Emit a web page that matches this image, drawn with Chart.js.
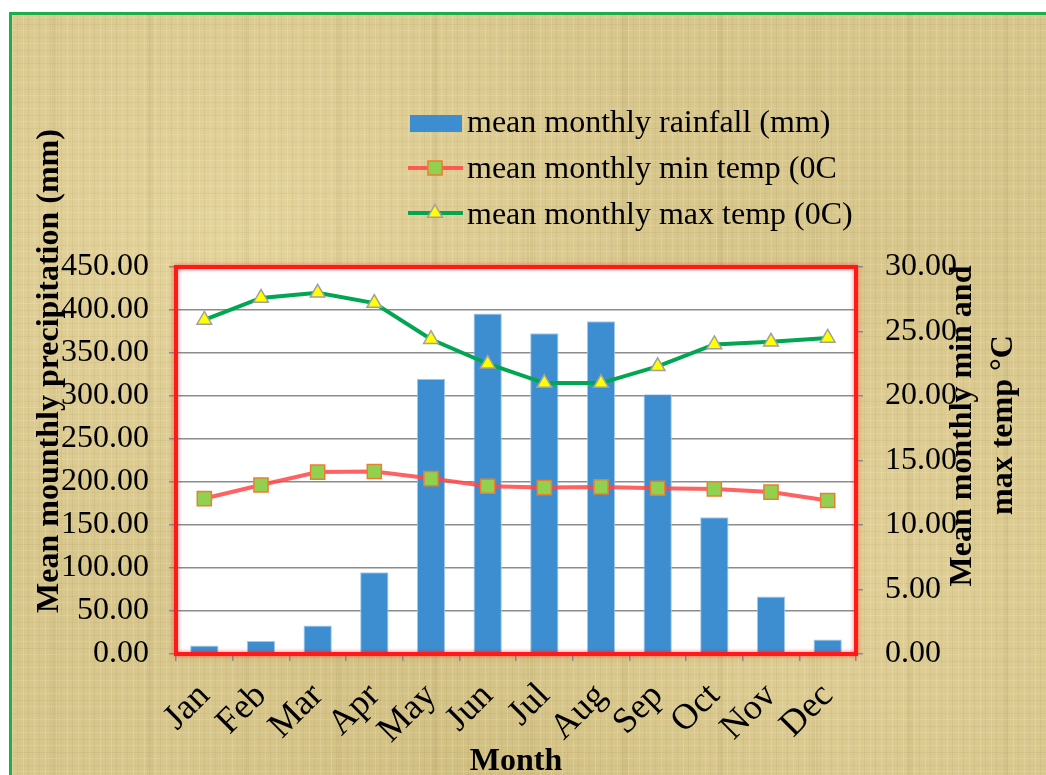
<!DOCTYPE html>
<html>
<head>
<meta charset="utf-8">
<title>Mean monthly rainfall and temperature</title>
<script src="https://cdn.jsdelivr.net/npm/chart.js@4.4.1/dist/chart.umd.min.js"></script>
<style>
  html, body { margin: 0; padding: 0; background: #fff; overflow: hidden; }
  #frame {
    position: absolute; left: 9px; top: 12px; width: 1100px; height: 900px;
    border: 3px solid #1DAE4B;
    background-color: #D8C78D;
    background-image:
      repeating-linear-gradient(90deg, rgba(255,248,212,0.18) 0 1px, transparent 1px 5px, rgba(130,105,40,0.08) 5px 6px, transparent 6px 11px),
      repeating-linear-gradient(0deg, rgba(255,248,212,0.14) 0 1px, transparent 1px 6px, rgba(130,105,40,0.07) 6px 7px, transparent 7px 13px),
      repeating-linear-gradient(90deg, transparent 0 40px, rgba(120,100,40,0.06) 40px 46px, transparent 46px 95px),
      radial-gradient(ellipse at 20% 25%, rgba(240,226,172,0.5), transparent 35%),
      radial-gradient(ellipse at 70% 60%, rgba(238,224,170,0.4), transparent 40%),
      radial-gradient(ellipse at 45% 90%, rgba(190,170,100,0.3), transparent 40%);
  }
  #chart { position: absolute; left: 0; top: 0; }
</style>
</head>
<body>
<div id="frame"></div>
<canvas id="chart" width="1046" height="775"></canvas>
<script>
// 月份
const months = ['Jan', 'Feb', 'Mar', 'Apr', 'May', 'Jun', 'Jul', 'Aug', 'Sep', 'Oct', 'Nov', 'Dec'];

// 月平均降雨量 (mm)
const rainfall = [10, 15, 33, 95, 320, 396, 373, 387, 302, 159, 67, 17];

// 月平均最低 / 最高气温 (°C)
const minTemp = [12.05, 13.1, 14.1, 14.15, 13.6, 13.0, 12.9, 12.95, 12.85, 12.8, 12.55, 11.9];
const maxTemp = [25.9, 27.6, 28.0, 27.2, 24.4, 22.5, 21.0, 21.0, 22.3, 24.0, 24.2, 24.5];

// 坐标轴范围
const rainAxis = { min: 0, max: 450, step: 50 };
const tempAxis = { min: 0, max: 30, step: 5 };

const serif = "'Liberation Serif', 'Times New Roman', serif";
const gridGray = '#8C8C8C';

Chart.defaults.font.family = serif;
Chart.defaults.color = '#000';

// 绘图区白底、红框、图例和轴标题
const decorPlugin = {
  id: 'decor',
  beforeDraw(chart) {
    const { ctx, chartArea: a } = chart;
    ctx.save();
    ctx.fillStyle = '#fff';
    ctx.fillRect(a.left, a.top, a.right - a.left, a.bottom - a.top);
    ctx.restore();
  },
  afterDraw(chart) {
    const { ctx, chartArea: a } = chart;
    const ds = chart.data.datasets;

    // 红色边框
    ctx.save();
    ctx.strokeStyle = '#FF1A1A';
    ctx.lineWidth = 4;
    ctx.shadowColor = 'rgba(255,0,0,0.55)';
    ctx.shadowBlur = 4;
    ctx.strokeRect(a.left, a.top, a.right - a.left, a.bottom - a.top);
    ctx.restore();

    // 图例
    ctx.save();
    ctx.font = '32px ' + serif;
    ctx.textBaseline = 'alphabetic';
    ctx.fillStyle = ds[0].backgroundColor;
    ctx.fillRect(410, 115, 52, 17);
    ctx.fillStyle = '#000';
    ctx.fillText(ds[0].label, 467, 132);

    [[1, 168, 178], [2, 213, 224]].forEach(([i, ly, by]) => {
      const d = ds[i];
      ctx.strokeStyle = d.borderColor;
      ctx.lineWidth = d.borderWidth;
      ctx.beginPath();
      ctx.moveTo(408, ly);
      ctx.lineTo(463, ly);
      ctx.stroke();
      ctx.fillStyle = d.pointBackgroundColor;
      ctx.strokeStyle = d.pointBorderColor;
      ctx.lineWidth = d.pointBorderWidth;
      Chart.helpers.drawPoint(ctx, { pointStyle: d.pointStyle, radius: d.pointRadius, borderWidth: d.pointBorderWidth, rotation: 0 }, 435, ly);
      ctx.fillStyle = '#000';
      ctx.fillText(d.label, 467, by);
    });
    ctx.restore();

    // 轴标题
    ctx.save();
    ctx.font = 'bold 32px ' + serif;
    ctx.fillStyle = '#000';
    ctx.textAlign = 'center';
    ctx.textBaseline = 'alphabetic';
    ctx.fillText('Month', (a.left + a.right) / 2, 770);

    const vText = (txt, x, y) => {
      ctx.save();
      ctx.translate(x, y);
      ctx.rotate(-Math.PI / 2);
      ctx.fillText(txt, 0, 0);
      ctx.restore();
    };
    vText('Mean mounthly precipitation (mm)', 58, 371);
    vText('Mean monthly min and', 971, 426);
    vText('max temp \u00B0C', 1012, 425);
    ctx.restore();
  }
};

const fmt2 = v => Number(v).toFixed(2);

new Chart(document.getElementById('chart'), {
  data: {
    labels: months,
    datasets: [
      {
        type: 'bar',
        label: 'mean monthly rainfall (mm)',
        data: rainfall,
        yAxisID: 'y',
        backgroundColor: '#3D8ED0',
        borderColor: '#A7C9E8',
        borderWidth: 1,
        barPercentage: 0.5,
        categoryPercentage: 1,
        order: 3
      },
      {
        type: 'line',
        label: 'mean monthly min temp (0C',
        data: minTemp,
        yAxisID: 'y1',
        borderColor: 'rgba(255,70,70,0.85)',
        borderWidth: 4,
        pointStyle: 'rect',
        pointRadius: 10,
        pointBackgroundColor: '#92D050',
        pointBorderColor: '#ED7D31',
        pointBorderWidth: 1.5,
        tension: 0,
        order: 2
      },
      {
        type: 'line',
        label: 'mean monthly max temp (0C)',
        data: maxTemp,
        yAxisID: 'y1',
        borderColor: '#00A651',
        borderWidth: 4,
        pointStyle: 'triangle',
        pointRadius: 8.5,
        pointBackgroundColor: '#FFFF00',
        pointBorderColor: '#A0A0A0',
        pointBorderWidth: 1.5,
        tension: 0,
        order: 1
      }
    ]
  },
  options: {
    responsive: false,
    animation: false,
    layout: { padding: { top: 267, left: 0, right: 0, bottom: 0 } },
    plugins: {
      legend: { display: false },
      tooltip: { enabled: false }
    },
    scales: {
      x: {
        grid: { drawOnChartArea: false, offset: true, color: gridGray, lineWidth: 1.5, tickLength: 7 },
        border: { display: false },
        ticks: { font: { size: 36 }, color: '#000', minRotation: 45, maxRotation: 45, padding: 14, autoSkip: false },
        afterFit(s) { s.height = 121; }
      },
      y: {
        position: 'left',
        min: rainAxis.min,
        max: rainAxis.max,
        grid: { color: gridGray, lineWidth: 1.5, tickLength: 7 },
        border: { display: false },
        ticks: { stepSize: rainAxis.step, callback: fmt2, font: { size: 32 }, color: '#000', padding: 20 },
        afterFit(s) { s.width = 176; }
      },
      y1: {
        position: 'right',
        min: tempAxis.min,
        max: tempAxis.max,
        grid: { drawOnChartArea: false, color: gridGray, lineWidth: 1.5, tickLength: 7 },
        border: { display: false },
        ticks: { stepSize: tempAxis.step, callback: fmt2, font: { size: 32 }, color: '#000', padding: 22 },
        afterFit(s) { s.width = 190; }
      }
    }
  },
  plugins: [decorPlugin]
});
</script>
</body>
</html>
